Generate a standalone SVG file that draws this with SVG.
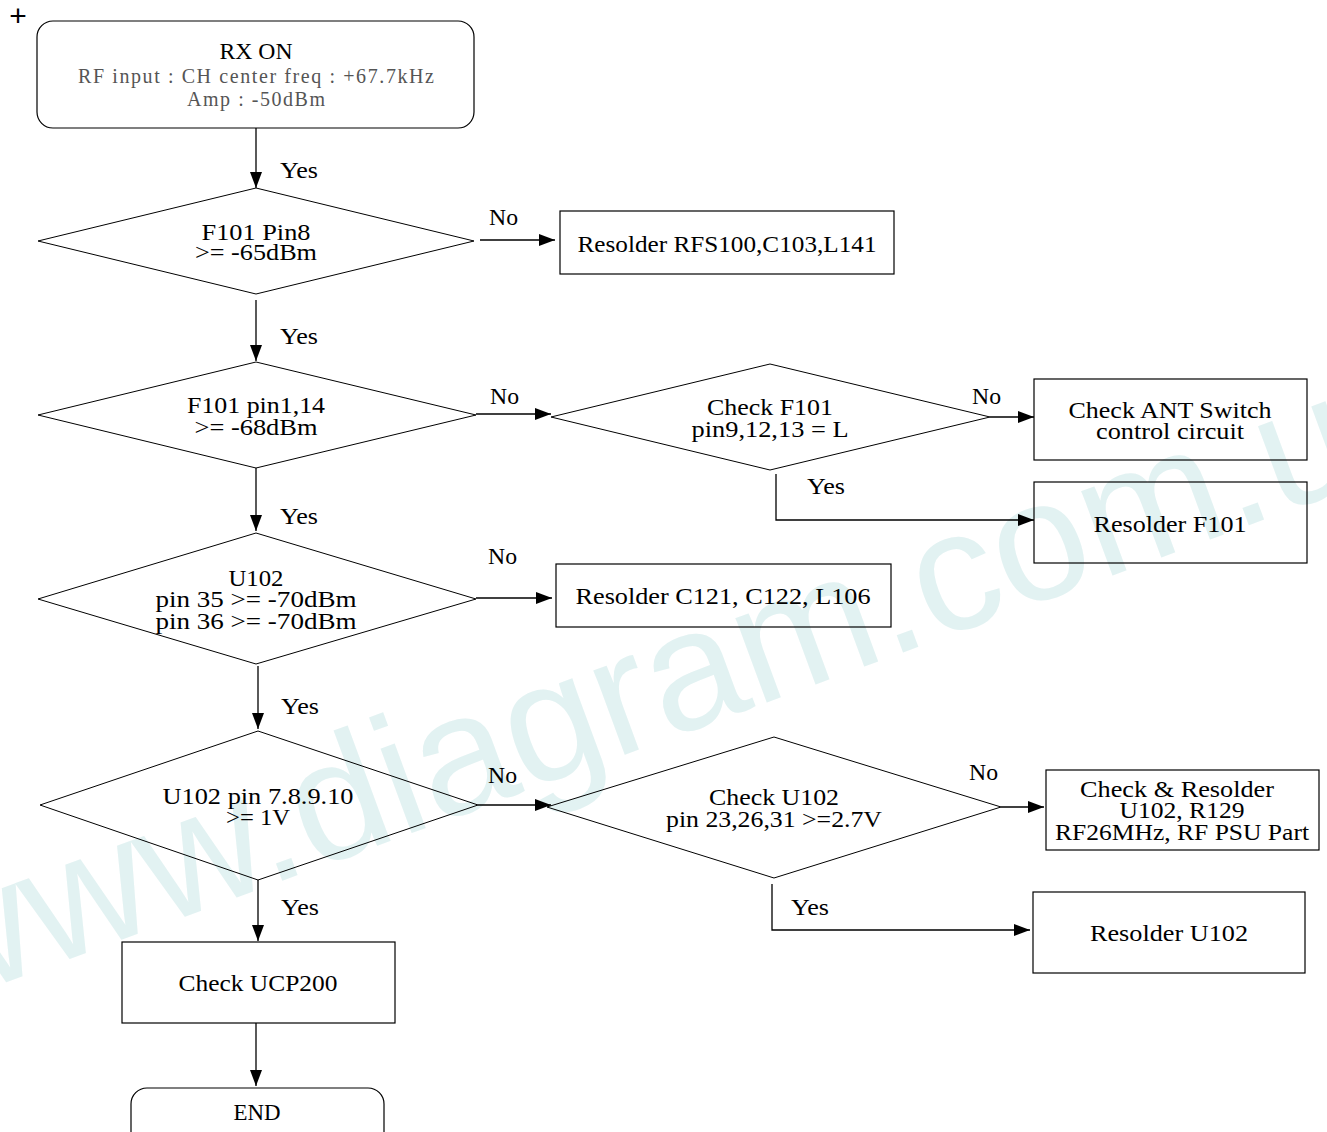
<svg xmlns="http://www.w3.org/2000/svg" width="1327" height="1132" viewBox="0 0 1327 1132">
<style>
.shape{fill:none;stroke:#000;stroke-width:1.2}
.dia{fill:none;stroke:#000;stroke-width:1}
.line{fill:none;stroke:#000;stroke-width:1.3}
.t{font-family:"Liberation Serif","DejaVu Serif",serif;font-size:24px;fill:#000;text-anchor:middle}
.g{font-family:"Liberation Serif","DejaVu Serif",serif;font-size:20px;fill:#555;text-anchor:middle}
.lbl{font-family:"Liberation Serif","DejaVu Serif",serif;font-size:24px;fill:#000}
.wm{font-family:"Liberation Sans",Arial,sans-serif;font-size:170px;fill:#d6eded;opacity:0.7}
</style>
<defs>
<marker id="ah" markerWidth="16" markerHeight="12" refX="16" refY="6" orient="auto" markerUnits="userSpaceOnUse">
<path d="M0,0 L16,6 L0,12 Z" fill="#000"/>
</marker>
</defs>
<rect width="1327" height="1132" fill="#fff"/>
<text class="wm" transform="translate(-69,1010) rotate(-20.2)">www.diagram.com.ua</text>
<text x="18" y="26" style="font-family:'Liberation Sans',sans-serif;font-size:30px;fill:#000;text-anchor:middle">+</text>

<g id="connectors">
<line class="line" x1="256" y1="128" x2="256" y2="188" marker-end="url(#ah)"/>
<line class="line" x1="480" y1="240" x2="555" y2="240" marker-end="url(#ah)"/>
<line class="line" x1="256" y1="300" x2="256" y2="361" marker-end="url(#ah)"/>
<line class="line" x1="476" y1="414" x2="551" y2="414" marker-end="url(#ah)"/>
<line class="line" x1="990" y1="417" x2="1034" y2="417" marker-end="url(#ah)"/>
<polyline class="line" points="776,474 776,520 1034,520" marker-end="url(#ah)"/>
<line class="line" x1="256" y1="468" x2="256" y2="531" marker-end="url(#ah)"/>
<line class="line" x1="476" y1="598" x2="552" y2="598" marker-end="url(#ah)"/>
<line class="line" x1="258" y1="666" x2="258" y2="729" marker-end="url(#ah)"/>
<line class="line" x1="478" y1="805" x2="551" y2="805" marker-end="url(#ah)"/>
<line class="line" x1="1001" y1="807" x2="1044" y2="807" marker-end="url(#ah)"/>
<polyline class="line" points="772,884 772,930 1030,930" marker-end="url(#ah)"/>
<line class="line" x1="258" y1="880" x2="258" y2="941" marker-end="url(#ah)"/>
<line class="line" x1="256" y1="1023" x2="256" y2="1086" marker-end="url(#ah)"/>
<text class="lbl" x="280" y="178" textLength="38" lengthAdjust="spacingAndGlyphs">Yes</text>
<text class="lbl" x="489" y="225" textLength="29" lengthAdjust="spacingAndGlyphs">No</text>
<text class="lbl" x="280" y="344" textLength="38" lengthAdjust="spacingAndGlyphs">Yes</text>
<text class="lbl" x="490" y="404" textLength="29" lengthAdjust="spacingAndGlyphs">No</text>
<text class="lbl" x="972" y="404" textLength="29" lengthAdjust="spacingAndGlyphs">No</text>
<text class="lbl" x="807" y="494" textLength="38" lengthAdjust="spacingAndGlyphs">Yes</text>
<text class="lbl" x="280" y="524" textLength="38" lengthAdjust="spacingAndGlyphs">Yes</text>
<text class="lbl" x="488" y="564" textLength="29" lengthAdjust="spacingAndGlyphs">No</text>
<text class="lbl" x="281" y="714" textLength="38" lengthAdjust="spacingAndGlyphs">Yes</text>
<text class="lbl" x="488" y="783" textLength="29" lengthAdjust="spacingAndGlyphs">No</text>
<text class="lbl" x="969" y="780" textLength="29" lengthAdjust="spacingAndGlyphs">No</text>
<text class="lbl" x="791" y="915" textLength="38" lengthAdjust="spacingAndGlyphs">Yes</text>
<text class="lbl" x="281" y="915" textLength="38" lengthAdjust="spacingAndGlyphs">Yes</text>
</g>

<g id="rx-on">
<rect class="shape" x="37" y="21" width="437" height="107" rx="16"/>
<text class="t" x="256" y="59" textLength="73" lengthAdjust="spacingAndGlyphs">RX ON</text>
<text class="g" x="256" y="83" textLength="356">RF input : CH center freq : +67.7kHz</text>
<text class="g" x="256" y="106" textLength="138">Amp : -50dBm</text>
</g>

<g id="d1">
<polygon class="dia" points="38,241 256,188 474,241 256,294"/>
<text class="t" x="256" y="240" textLength="109" lengthAdjust="spacingAndGlyphs">F101 Pin8</text>
<text class="t" x="256" y="260" textLength="122" lengthAdjust="spacingAndGlyphs">&gt;= -65dBm</text>
</g>

<g id="b1">
<rect class="shape" x="560" y="211" width="334" height="63"/>
<text class="t" x="727" y="252" textLength="299" lengthAdjust="spacingAndGlyphs">Resolder RFS100,C103,L141</text>
</g>

<g id="d2">
<polygon class="dia" points="38,415 256,362 476,415 256,468"/>
<text class="t" x="256" y="413" textLength="138" lengthAdjust="spacingAndGlyphs">F101 pin1,14</text>
<text class="t" x="256" y="435" textLength="123" lengthAdjust="spacingAndGlyphs">&gt;= -68dBm</text>
</g>

<g id="d3">
<polygon class="dia" points="551,417 770,364 990,417 770,470"/>
<text class="t" x="770" y="415" textLength="126" lengthAdjust="spacingAndGlyphs">Check F101</text>
<text class="t" x="770" y="437" textLength="157" lengthAdjust="spacingAndGlyphs">pin9,12,13 = L</text>
</g>

<g id="b-ant">
<rect class="shape" x="1034" y="379" width="273" height="81"/>
<text class="t" x="1170" y="418" textLength="203" lengthAdjust="spacingAndGlyphs">Check ANT Switch</text>
<text class="t" x="1170" y="439" textLength="148" lengthAdjust="spacingAndGlyphs">control circuit</text>
</g>

<g id="b-f101">
<rect class="shape" x="1034" y="482" width="273" height="81"/>
<text class="t" x="1170" y="532" textLength="153" lengthAdjust="spacingAndGlyphs">Resolder F101</text>
</g>

<g id="d4">
<polygon class="dia" points="38,599 256,533 476,599 256,664"/>
<text class="t" x="256" y="586" textLength="55" lengthAdjust="spacingAndGlyphs">U102</text>
<text class="t" x="256" y="607" textLength="201" lengthAdjust="spacingAndGlyphs">pin 35 &gt;= -70dBm</text>
<text class="t" x="256" y="629" textLength="201" lengthAdjust="spacingAndGlyphs">pin 36 &gt;= -70dBm</text>
</g>

<g id="b2">
<rect class="shape" x="556" y="564" width="335" height="63"/>
<text class="t" x="723" y="604" textLength="295" lengthAdjust="spacingAndGlyphs">Resolder C121, C122, L106</text>
</g>

<g id="d5">
<polygon class="dia" points="40,805 258,731 478,805 258,880"/>
<text class="t" x="258" y="804" textLength="191" lengthAdjust="spacingAndGlyphs">U102 pin 7.8.9.10</text>
<text class="t" x="258" y="825" textLength="64" lengthAdjust="spacingAndGlyphs">&gt;= 1V</text>
</g>

<g id="d6">
<polygon class="dia" points="547,807 774,737 1001,807 774,878"/>
<text class="t" x="774" y="805" textLength="130" lengthAdjust="spacingAndGlyphs">Check U102</text>
<text class="t" x="774" y="827" textLength="216" lengthAdjust="spacingAndGlyphs">pin 23,26,31 &gt;=2.7V</text>
</g>

<g id="b-u102-psu">
<rect class="shape" x="1046" y="770" width="273" height="80"/>
<text class="t" x="1177" y="797" textLength="194" lengthAdjust="spacingAndGlyphs">Check &amp; Resolder</text>
<text class="t" x="1182" y="818" textLength="125" lengthAdjust="spacingAndGlyphs">U102, R129</text>
<text class="t" x="1182" y="840" textLength="254" lengthAdjust="spacingAndGlyphs">RF26MHz, RF PSU Part</text>
</g>

<g id="b-u102">
<rect class="shape" x="1033" y="892" width="272" height="81"/>
<text class="t" x="1169" y="941" textLength="158" lengthAdjust="spacingAndGlyphs">Resolder U102</text>
</g>

<g id="b-ucp">
<rect class="shape" x="122" y="942" width="273" height="81"/>
<text class="t" x="258" y="991" textLength="159" lengthAdjust="spacingAndGlyphs">Check UCP200</text>
</g>

<g id="end">
<rect class="shape" x="131" y="1088" width="253" height="60" rx="16"/>
<text class="t" x="257" y="1120" textLength="47" lengthAdjust="spacingAndGlyphs">END</text>
</g>
</svg>
